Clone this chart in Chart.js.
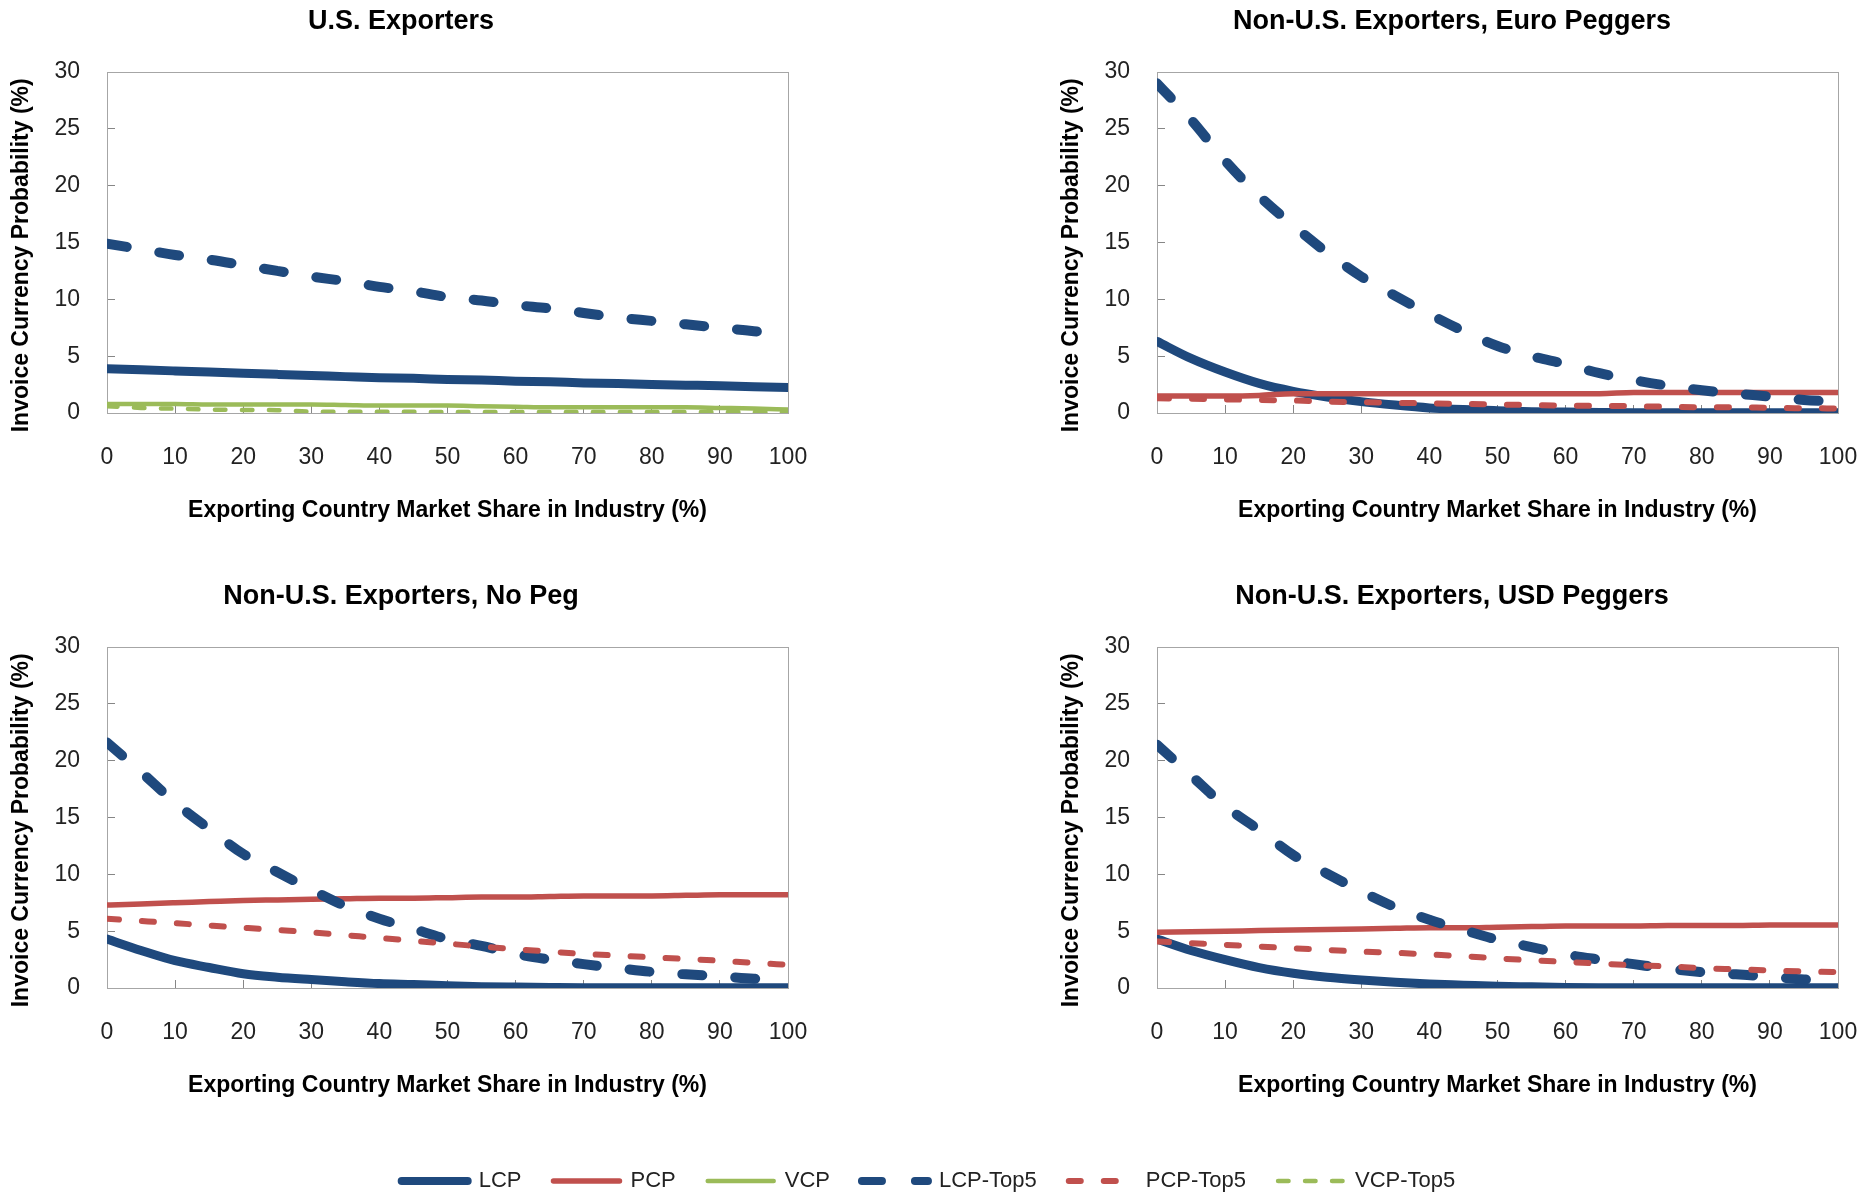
<!DOCTYPE html>
<html>
<head>
<meta charset="utf-8">
<title>Invoice Currency Probability by Market Share</title>
<script src="https://cdn.jsdelivr.net/npm/chart.js@4.4.1/dist/chart.umd.min.js"></script>
<style>
    html, body { margin: 0; padding: 0; background: #fff; overflow: hidden; }
    body { width: 1876px; height: 1198px; position: relative; }
    canvas { position: absolute; }
</style>
</head>
<body>
<canvas id="chart-us" width="820" height="534" style="left:0px; top:0px;"></canvas>
<canvas id="chart-euro" width="824" height="534" style="left:1052px; top:0px;"></canvas>
<canvas id="chart-nopeg" width="820" height="534" style="left:0px; top:575px;"></canvas>
<canvas id="chart-usd" width="824" height="534" style="left:1052px; top:575px;"></canvas>
<canvas id="chart-legend" width="1876" height="130" style="left:0px; top:1138px;"></canvas>
<script>
// x values: exporting country market share (%)
const marketShare = [0, 5, 10, 15, 20, 25, 30, 35, 40, 45, 50, 55, 60, 65, 70, 75, 80, 85, 90, 95, 100];

// U.S. exporters
const usLCP      = [3.9, 3.8, 3.7, 3.6, 3.5, 3.4, 3.3, 3.2, 3.1, 3.05, 2.95, 2.9, 2.8, 2.75, 2.65, 2.6, 2.5, 2.45, 2.4, 2.3, 2.25];
const usVCP      = [0.8, 0.8, 0.8, 0.75, 0.75, 0.75, 0.75, 0.7, 0.65, 0.65, 0.65, 0.6, 0.55, 0.5, 0.5, 0.5, 0.5, 0.5, 0.45, 0.4, 0.3];
const usLCPTop5  = [14.9, 14.4, 13.9, 13.5, 13.0, 12.5, 12.0, 11.6, 11.1, 10.7, 10.2, 9.9, 9.5, 9.2, 8.8, 8.4, 8.1, 7.8, 7.5, 7.2, 6.9];
const usVCPTop5  = [0.6, 0.45, 0.38, 0.3, 0.27, 0.25, 0.12, 0.1, 0.1, 0.1, 0.08, 0.08, 0.08, 0.08, 0.08, 0.08, 0.08, 0.08, 0.08, 0.08, 0.08];

// Non-U.S. exporters, euro peggers
const euroLCP     = [6.3, 4.8, 3.6, 2.6, 1.9, 1.4, 1.0, 0.7, 0.45, 0.3, 0.2, 0.12, 0.08, 0.05, 0.03, 0.03, 0.03, 0.03, 0.03, 0.03, 0.03];
const euroPCP     = [1.5, 1.5, 1.5, 1.55, 1.7, 1.7, 1.7, 1.7, 1.7, 1.7, 1.7, 1.7, 1.7, 1.7, 1.8, 1.8, 1.8, 1.8, 1.8, 1.8, 1.8];
const euroLCPTop5 = [29.0, 25.8, 22.2, 19.1, 16.5, 14.1, 12.0, 10.3, 8.7, 7.2, 5.9, 5.0, 4.3, 3.5, 2.9, 2.4, 2.0, 1.7, 1.45, 1.15, 1.0];
const euroPCPTop5 = [1.3, 1.25, 1.2, 1.15, 1.1, 1.0, 0.95, 0.9, 0.85, 0.8, 0.75, 0.7, 0.65, 0.62, 0.6, 0.55, 0.5, 0.5, 0.45, 0.42, 0.4];

// Non-U.S. exporters, no peg
const noPegLCP     = [4.3, 3.3, 2.4, 1.8, 1.25, 0.95, 0.74, 0.55, 0.39, 0.3, 0.2, 0.12, 0.08, 0.05, 0.03, 0.03, 0.03, 0.03, 0.03, 0.03, 0.03];
const noPegPCP     = [7.3, 7.4, 7.5, 7.6, 7.7, 7.75, 7.8, 7.85, 7.9, 7.9, 7.95, 8.0, 8.0, 8.05, 8.1, 8.1, 8.1, 8.15, 8.2, 8.2, 8.2];
const noPegLCPTop5 = [21.6, 19.0, 16.3, 14.0, 11.8, 10.2, 8.65, 7.2, 6.1, 5.2, 4.3, 3.7, 3.0, 2.5, 2.1, 1.75, 1.42, 1.2, 1.03, 0.82, 0.7];
const noPegPCPTop5 = [6.1, 5.9, 5.7, 5.5, 5.3, 5.1, 4.9, 4.65, 4.4, 4.15, 3.9, 3.65, 3.4, 3.2, 3.0, 2.85, 2.7, 2.55, 2.4, 2.2, 2.05];

// Non-U.S. exporters, USD peggers
const usdLCP     = [4.3, 3.3, 2.5, 1.8, 1.3, 0.95, 0.7, 0.5, 0.35, 0.25, 0.15, 0.1, 0.05, 0.03, 0.03, 0.03, 0.03, 0.03, 0.03, 0.03, 0.03];
const usdPCP     = [4.9, 4.95, 5.0, 5.05, 5.1, 5.15, 5.2, 5.25, 5.3, 5.3, 5.35, 5.4, 5.45, 5.45, 5.45, 5.5, 5.5, 5.5, 5.55, 5.55, 5.55];
const usdLCPTop5 = [21.4, 18.7, 16.0, 13.9, 11.7, 10.05, 8.5, 7.1, 6.0, 5.1, 4.25, 3.6, 2.95, 2.5, 2.1, 1.7, 1.4, 1.2, 1.0, 0.75, 0.6];
const usdPCPTop5 = [4.1, 3.95, 3.8, 3.65, 3.5, 3.35, 3.2, 3.1, 2.95, 2.8, 2.6, 2.45, 2.3, 2.15, 2.0, 1.9, 1.75, 1.65, 1.55, 1.45, 1.4];

const seriesNames = ['LCP', 'PCP', 'VCP', 'LCP-Top5', 'PCP-Top5', 'VCP-Top5'];

const BLUE = '#1F497D';
const RED = '#C0504D';
const GREEN = '#9BBB59';

const seriesStyles = {
    'LCP':      { color: BLUE,  width: 9,   dash: [] },
    'PCP':      { color: RED,   width: 5.5, dash: [] },
    'VCP':      { color: GREEN, width: 4.5, dash: [] },
    'LCP-Top5': { color: BLUE,  width: 10,  dash: [20, 33] },
    'PCP-Top5': { color: RED,   width: 6,   dash: [12, 23] },
    'VCP-Top5': { color: GREEN, width: 4.5, dash: [10.5, 16.5] }
};

Chart.defaults.font.family = '"Liberation Sans", Arial, sans-serif';
Chart.defaults.color = '#222';

function toPoints(values) {
    return marketShare.map((share, i) => ({ x: share, y: values[i] }));
}

function makeDataset(name, values) {
    const style = seriesStyles[name];
    const index = seriesNames.indexOf(name);
    return {
        label: name,
        data: values ? toPoints(values) : [],
        borderColor: style.color,
        backgroundColor: style.color,
        borderWidth: style.width,
        borderDash: style.dash,
        borderCapStyle: 'round',
        borderJoinStyle: 'round',
        pointRadius: 0,
        fill: false,
        cubicInterpolationMode: 'monotone',
        order: seriesNames.length - index // later series are drawn on top, like Excel
    };
}

// light grey box round the plot area
const plotFrame = {
    id: 'plotFrame',
    beforeDatasetsDraw(chart) {
        const { ctx, chartArea } = chart;
        ctx.save();
        ctx.strokeStyle = '#a6a6a6';
        ctx.lineWidth = 1;
        ctx.strokeRect(chartArea.left + 0.5, chartArea.top + 0.5, chartArea.width, chartArea.height);
        ctx.restore();
    }
};

function renderPanel(canvasId, title, series, layoutInfo) {
    const axisGrey = '#868686';
    new Chart(document.getElementById(canvasId), {
        type: 'line',
        data: {
            datasets: series.map(([name, values]) => makeDataset(name, values))
        },
        options: {
            responsive: false,
            animation: false,
            layout: { padding: { left: 14, right: layoutInfo.rightPad, top: 0, bottom: 0 } },
            plugins: {
                legend: { display: false },
                tooltip: { enabled: false },
                title: {
                    display: true,
                    text: title,
                    color: '#000',
                    font: { size: 27, weight: 'bold' },
                    padding: { top: 5, bottom: 34.6 }
                }
            },
            scales: {
                x: {
                    type: 'linear',
                    min: 0,
                    max: 100,
                    ticks: { stepSize: 10, padding: 39, color: '#222', font: { size: 23 } },
                    grid: { drawOnChartArea: false, tickLength: -8, color: axisGrey },
                    border: { color: axisGrey },
                    title: {
                        display: true,
                        text: 'Exporting Country Market Share in Industry (%)',
                        color: '#000',
                        font: { size: 23, weight: 'bold' },
                        padding: { top: 0, bottom: 10 }
                    },
                    afterFit(scale) {
                        scale.height = 121;
                        scale.paddingLeft = 0;
                        scale.paddingRight = 0;
                    }
                },
                y: {
                    min: 0,
                    max: 30,
                    ticks: { stepSize: 5, padding: 35, color: '#222', font: { size: 23 } },
                    grid: { drawOnChartArea: false, tickLength: -8, color: axisGrey },
                    border: { color: axisGrey },
                    title: {
                        display: true,
                        // trailing no-break spaces nudge the centred text down a little
                        text: 'Invoice Currency Probability (%)\u00A0\u00A0\u00A0\u00A0',
                        color: '#000',
                        font: { size: 23, weight: 'bold' },
                        padding: { top: layoutInfo.yTitlePad, bottom: 0 }
                    },
                    afterFit(scale) {
                        scale.width = layoutInfo.yWidth;
                        scale.paddingTop = 0;
                        scale.paddingBottom = 0;
                    }
                }
            }
        },
        plugins: [plotFrame]
    });
}

function renderLegend() {
    const defaultLabels = Chart.defaults.plugins.legend.labels.generateLabels;
    new Chart(document.getElementById('chart-legend'), {
        type: 'line',
        data: { datasets: seriesNames.map(name => makeDataset(name, null)) },
        options: {
            responsive: false,
            animation: false,
            layout: { padding: { right: 19 } },
            scales: { x: { display: false }, y: { display: false } },
            plugins: {
                tooltip: { enabled: false },
                legend: {
                    position: 'top',
                    labels: {
                        usePointStyle: true,
                        pointStyle: 'line',
                        pointStyleWidth: 66,
                        padding: 32,
                        color: '#222',
                        font: { size: 22 },
                        sort: (a, b) => a.datasetIndex - b.datasetIndex,
                        generateLabels(chart) {
                            // point style items lose the line dash, so copy it back from the dataset
                            const items = defaultLabels(chart);
                            items.forEach(item => {
                                const ds = chart.data.datasets[item.datasetIndex];
                                item.lineDash = ds.borderDash;
                                item.lineWidth = Math.min(ds.borderWidth, 8);
                                item.lineCap = 'round';
                                item.strokeStyle = ds.borderColor;
                            });
                            return items;
                        }
                    }
                }
            }
        }
    });
}

const leftColumn = { rightPad: 32, yWidth: 93, yTitlePad: -6 };
const rightColumn = { rightPad: 38, yWidth: 91, yTitlePad: -8 };

renderPanel('chart-us', 'U.S. Exporters', [
    ['LCP', usLCP], ['VCP', usVCP], ['LCP-Top5', usLCPTop5], ['VCP-Top5', usVCPTop5]
], leftColumn);

renderPanel('chart-euro', 'Non-U.S. Exporters, Euro Peggers', [
    ['LCP', euroLCP], ['PCP', euroPCP], ['LCP-Top5', euroLCPTop5], ['PCP-Top5', euroPCPTop5]
], rightColumn);

renderPanel('chart-nopeg', 'Non-U.S. Exporters, No Peg', [
    ['LCP', noPegLCP], ['PCP', noPegPCP], ['LCP-Top5', noPegLCPTop5], ['PCP-Top5', noPegPCPTop5]
], leftColumn);

renderPanel('chart-usd', 'Non-U.S. Exporters, USD Peggers', [
    ['LCP', usdLCP], ['PCP', usdPCP], ['LCP-Top5', usdLCPTop5], ['PCP-Top5', usdPCPTop5]
], rightColumn);

renderLegend();
</script>
</body>
</html>
